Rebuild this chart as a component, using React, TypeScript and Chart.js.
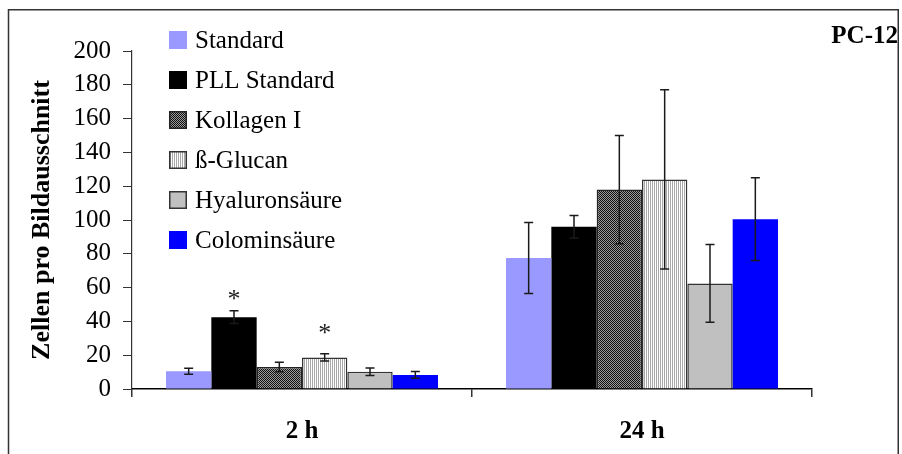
import React, { useEffect, useRef } from "react";
import { Chart, registerables } from "chart.js";

Chart.register(...registerables);

const categories = ["2 h", "24 h"];
const seriesNames = ["Standard", "PLL Standard", "Kollagen I", "ß-Glucan", "Hyaluronsäure", "Colominsäure"];
const standard = [10.5, 77.5];
const standardErr = [1.8, 21];
const pll = [42.5, 96];
const pllErr = [3.8, 6.7];
const kollagen = [13, 118];
const kollagenErr = [2.8, 32];
const glucan = [18.7, 124];
const glucanErr = [2.2, 53];
const hyaluron = [10.2, 62.5];
const hyaluronErr = [2.2, 23];
const colomin = [8.3, 100.5];
const colominErr = [2, 24.5];
// significance marks: [series index, category index, value at which the asterisk sits]
const asterisks = [
  [1, 0, 55.5],
  [3, 0, 35.5],
];
const yTicks = [0, 20, 40, 60, 80, 100, 120, 140, 160, 180, 200];
const yTitle = "Zellen pro Bildausschnitt";
const cornerLabel = "PC-12";

const SERIF = "'Liberation Serif', 'DejaVu Serif', serif";

function makeChecker(): CanvasPattern | string {
  const c = document.createElement("canvas");
  c.width = 2;
  c.height = 2;
  const x = c.getContext("2d");
  if (!x) return "#555";
  x.fillStyle = "#9a9a9a";
  x.fillRect(0, 0, 2, 2);
  x.fillStyle = "#111";
  x.fillRect(0, 0, 1, 1);
  x.fillRect(1, 1, 1, 1);
  return x.createPattern(c, "repeat") || "#555";
}

function makeStripes(): CanvasPattern | string {
  const c = document.createElement("canvas");
  c.width = 2;
  c.height = 2;
  const x = c.getContext("2d");
  if (!x) return "#ddd";
  x.fillStyle = "#ffffff";
  x.fillRect(0, 0, 2, 2);
  x.fillStyle = "#a8a8a8";
  x.fillRect(0, 0, 1, 2);
  return x.createPattern(c, "repeat") || "#ddd";
}

export default function App() {
  const ref = useRef<HTMLCanvasElement | null>(null);

  useEffect(() => {
    if (!ref.current) return;
    const checker = makeChecker();
    const stripes = makeStripes();
    const values = [standard, pll, kollagen, glucan, hyaluron, colomin];
    const errors = [standardErr, pllErr, kollagenErr, glucanErr, hyaluronErr, colominErr];
    const fills: any[] = ["#9999ff", "#000000", checker, stripes, "#c0c0c0", "#0000ff"];
    const borders = ["#9999ff", "#000000", "#222222", "#333333", "#333333", "#0000ff"];
    const borderWidths = [0, 0, 1.5, 1.5, 1.5, 0];

    const extras = {
      id: "extras",
      afterDatasetsDraw(chart: any) {
        const ctx = chart.ctx;
        const y = chart.scales.y;
        ctx.save();
        // error bars
        values.forEach((vals, di) => {
          const meta = chart.getDatasetMeta(di);
          meta.data.forEach((bar: any, i: number) => {
            const top = y.getPixelForValue(vals[i] + errors[di][i]);
            const bot = y.getPixelForValue(vals[i] - errors[di][i]);
            const xc = bar.x;
            ctx.strokeStyle = "#1a1a1a";
            ctx.lineWidth = 1.5;
            ctx.beginPath();
            ctx.moveTo(xc, top);
            ctx.lineTo(xc, bot);
            ctx.moveTo(xc - 4.5, top);
            ctx.lineTo(xc + 4.5, top);
            ctx.moveTo(xc - 4.5, bot);
            ctx.lineTo(xc + 4.5, bot);
            ctx.stroke();
          });
        });
        // asterisks
        ctx.fillStyle = "#222";
        ctx.font = `26px ${SERIF}`;
        ctx.textAlign = "center";
        ctx.textBaseline = "middle";
        asterisks.forEach(([di, ci, v]) => {
          const bar = chart.getDatasetMeta(di).data[ci];
          ctx.fillText("*", bar.x, y.getPixelForValue(v) + 5);
        });
        ctx.restore();
      },
      afterDraw(chart: any) {
        const ctx = chart.ctx;
        ctx.save();
        // frame
        ctx.strokeStyle = "#333";
        ctx.lineWidth = 1.5;
        ctx.beginPath();
        ctx.moveTo(8.5, 470);
        ctx.lineTo(8.5, 9.75);
        ctx.lineTo(898.25, 9.75);
        ctx.lineTo(898.25, 470);
        ctx.stroke();
        // legend
        ctx.font = `25px ${SERIF}`;
        ctx.textAlign = "left";
        ctx.textBaseline = "middle";
        seriesNames.forEach((name, i) => {
          const cy = 40 + i * 40;
          ctx.fillStyle = fills[i];
          ctx.fillRect(169, cy - 9, 18, 18);
          if (borderWidths[i] > 0) {
            ctx.strokeStyle = borders[i];
            ctx.lineWidth = 1.5;
            ctx.strokeRect(169.75, cy - 8.25, 16.5, 16.5);
          }
          ctx.fillStyle = "#000";
          ctx.fillText(name, 195, cy + 1);
        });
        // corner label
        ctx.font = `bold 25px ${SERIF}`;
        ctx.textAlign = "right";
        ctx.fillText(cornerLabel, 898, 37);
        ctx.restore();
      },
    };

    const chart = new Chart(ref.current, {
      type: "bar",
      data: {
        labels: categories,
        datasets: values.map((vals, i) => ({
          label: seriesNames[i],
          data: vals,
          backgroundColor: fills[i],
          borderColor: borders[i],
          borderWidth: borderWidths[i],
          categoryPercentage: 0.8,
          barPercentage: 1.0,
        })),
      },
      options: {
        responsive: false,
        animation: false,
        layout: { padding: { left: 0, right: 90, top: 51, bottom: 0 } },
        plugins: { legend: { display: false }, tooltip: { enabled: false } },
        scales: {
          x: {
            offset: true,
            grid: {
              offset: true,
              drawOnChartArea: false,
              color: "#333",
              tickLength: 8,
              lineWidth: 1.5,
            },
            border: { color: "#000", width: 1.5 },
            ticks: {
              color: "#000",
              font: { family: SERIF, size: 25, weight: "bold" },
              padding: 20,
            },
            afterFit(scale: any) {
              scale.height = 65;
            },
          },
          y: {
            min: 0,
            max: 200,
            afterBuildTicks(scale: any) {
              scale.ticks = yTicks.map((v) => ({ value: v }));
            },
            grid: {
              drawOnChartArea: false,
              color: "#333",
              tickLength: 9,
              lineWidth: 1,
            },
            border: { color: "#333", width: 1.2 },
            ticks: {
              color: "#000",
              font: { family: SERIF, size: 25 },
              padding: 12,
            },
            title: {
              display: true,
              text: yTitle,
              color: "#000",
              font: { family: SERIF, size: 26, weight: "bold" },
              padding: { top: 27, bottom: 0 },
            },
            afterFit(scale: any) {
              scale.width = 132;
            },
          },
        },
      },
      plugins: [extras],
    });
    return () => chart.destroy();
  }, []);

  return (
    <div style={{ position: "absolute", left: 0, top: 0, width: 902, height: 454, background: "#fff" }}>
      <canvas ref={ref} width={902} height={454} />
    </div>
  );
}
